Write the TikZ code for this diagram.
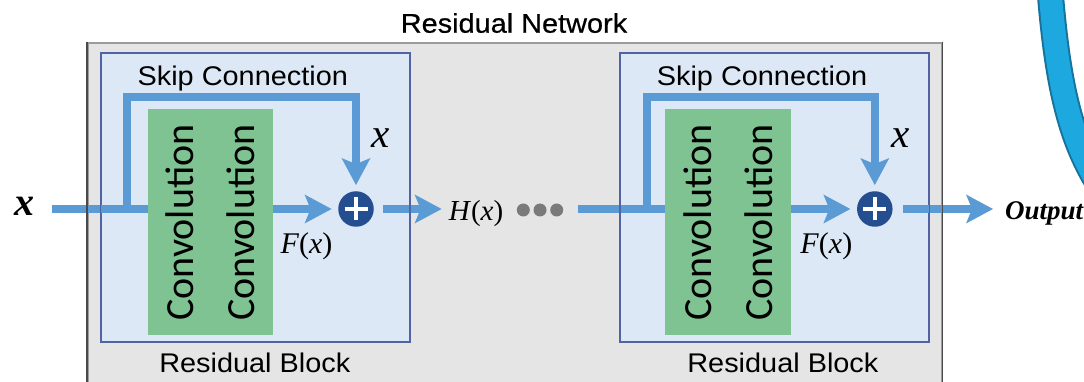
\documentclass[tikz,border=0pt]{standalone}
\usepackage{fontspec}
\setmainfont{Liberation Serif}
\newfontfamily\labelfont[FakeStretch=1.07]{Liberation Sans}
\newfontfamily\titlefont[FakeStretch=1.07, FakeBold=0.6]{Liberation Sans}
\newfontfamily\convfont{Carlito}
\usetikzlibrary{arrows.meta}

\definecolor{netgray}{HTML}{E5E5E5}
\definecolor{netedge}{HTML}{4A4A4A}
\definecolor{nettop}{HTML}{9C9C9C}
\definecolor{blockfill}{HTML}{DCE8F5}
\definecolor{blockedge}{HTML}{5163A3}
\definecolor{convgreen}{HTML}{7EC391}
\definecolor{flowblue}{HTML}{5B9BD5}
\definecolor{sumnavy}{HTML}{254E91}
\definecolor{dotgray}{HTML}{7A7A7A}
\definecolor{arcfill}{HTML}{1EA8E0}
\definecolor{arcedge}{HTML}{18739C}

\tikzset{
  network/.style={fill=netgray, draw=nettop, line width=1.5pt},
  resblock/.style={fill=blockfill, draw=blockedge, line width=1.5pt},
  convbox/.style={fill=convgreen, draw=none, inner sep=0pt},
  convtext/.style={font=\convfont\fontsize{40}{44}\selectfont, rotate=90, inner sep=0pt},
  pipe/.style={draw=flowblue, line width=8pt},
  flow/.style={pipe, -{Stealth[length=27pt, width=29pt, inset=6pt, line width=0pt]}},
  sumnode/.style={circle, fill=sumnavy, minimum size=35.5pt, inner sep=0pt,
    path picture={
      \draw[white, line width=4pt]
        ([xshift=-11.5pt]path picture bounding box.center) -- ([xshift=11.5pt]path picture bounding box.center)
        ([yshift=-11.5pt]path picture bounding box.center) -- ([yshift=11.5pt]path picture bounding box.center);
    }},
  sanslabel/.style={font=\labelfont\fontsize{27}{32}\selectfont, inner sep=0pt, anchor=base},
  mathlabel/.style={inner sep=0pt, anchor=base},
  dotnode/.style={circle, fill=dotgray, minimum size=13pt, inner sep=0pt},
}

\begin{document}
\begin{tikzpicture}[x=1pt, y=-1pt]
  \useasboundingbox (0,0) rectangle (1084,382);
  \fill[white] (0,0) rectangle (1084,382);

  % decorative band at the upper right
  \begin{scope}
    \clip (0,0) rectangle (1084,382);
    \draw[arcedge, line width=27pt] (1050,-10) .. controls (1058,90) and (1072,150) .. (1110,200);
    \draw[arcfill, line width=23pt] (1050,-10) .. controls (1058,90) and (1072,150) .. (1110,200);
  \end{scope}

  % the network frame
  \node[network, anchor=north west, minimum width=854pt, minimum height=360pt, inner sep=0pt]
    (net) at (87,42.5) {};
  \node[font=\titlefont\fontsize{27}{32}\selectfont, inner sep=0pt, anchor=base] (nettitle) at (514,32.7) {Residual Network};

  % residual blocks
  \node[resblock, anchor=north west, minimum width=308pt, minimum height=288.5pt, inner sep=0pt]
    (block1) at (100.5,52.5) {};
  \node[resblock, anchor=north west, minimum width=308pt, minimum height=288.5pt, inner sep=0pt]
    (block2) at (619.8,52.5) {};

  % convolution stacks
  \node[convbox, anchor=north west, minimum width=125pt, minimum height=226pt] (conv1) at (148,109) {};
  \node[convbox, anchor=north west, minimum width=126pt, minimum height=226pt] (conv2) at (665,109) {};
  \node[convtext] (conv1a) at (179.5,222.5) {Convolution};
  \node[convtext] (conv1b) at (241,222.5) {Convolution};
  \node[convtext] (conv2a) at (697.5,222.5) {Convolution};
  \node[convtext] (conv2b) at (758.5,222.5) {Convolution};

  % adders
  \node[sumnode] (sum1) at (356,209) {};
  \node[sumnode] (sum2) at (874.8,209) {};

  % labels
  \node[mathlabel, font=\fontsize{40}{44}\selectfont\bfseries\itshape] (xin) at (24,215) {x};
  \node[mathlabel, font=\fontsize{41}{44}\selectfont\itshape] (xs1) at (380.5,148) {x};
  \node[mathlabel, font=\fontsize{41}{44}\selectfont\itshape] (xs2) at (901,148) {x};
  \node[mathlabel, font=\fontsize{30}{34}\selectfont] (fx1) at (306.5,253) {\textit{F}(\textit{x})};
  \node[mathlabel, font=\fontsize{30}{34}\selectfont] (fx2) at (826.3,253) {\textit{F}(\textit{x})};
  \node[mathlabel, font=\fontsize{29}{34}\selectfont] (hx) at (476,220.5) {\textit{H}(\textit{x})};
  \node[mathlabel, font=\fontsize{27}{32}\selectfont\bfseries\itshape, anchor=base west] (out) at (1005,220) {Output};
  \node[sanslabel] (skip1) at (242.8,86) {Skip Connection};
  \node[sanslabel] (skip2) at (762,86) {Skip Connection};
  \node[sanslabel] (rb1) at (254.8,372.5) {Residual Block};
  \node[sanslabel] (rb2) at (782.9,372.5) {Residual Block};

  % ellipsis between blocks
  \node[dotnode] (d1) at (523.3,210) {};
  \node[dotnode] (d2) at (540,210) {};
  \node[dotnode] (d3) at (556.7,210) {};

  % connection points on the main line
  \coordinate (in1) at (52,209);
  \coordinate (sp1) at (127.4,209);
  \coordinate (in2) at (578,209);
  \coordinate (sp2) at (646.9,209);

  % first block
  \draw[pipe] (in1) -- (conv1.west |- in1);
  \draw[flow, shorten >=6pt] (sp1) -- ++(0,-112) -| (sum1.north);
  \draw[flow, shorten >=6.5pt] (conv1.east |- sum1) -- (sum1.west);
  \draw[flow, shorten <=9pt, shorten >=7pt] (sum1.east) -- (hx.west |- sum1);

  % second block
  \draw[pipe] (in2) -- (conv2.west |- in2);
  \draw[flow, shorten >=6pt] (sp2) -- ++(0,-112) -| (sum2.north);
  \draw[flow, shorten >=6.5pt] (conv2.east |- sum2) -- (sum2.west);
  \draw[flow, shorten <=10pt, shorten >=12pt] (sum2.east) -- (out.west |- sum2);

  % frame sides and block outlines stay visible across the main line
  \draw[draw=netedge, line width=1.5pt] (net.north west) -- (net.south west)
                                        (net.north east) -- (net.south east);
  \draw[draw=blockedge, line width=1.5pt] (block1.north west) rectangle (block1.south east);
  \draw[draw=blockedge, line width=1.5pt] (block2.north west) rectangle (block2.south east);
\end{tikzpicture}
\end{document}
